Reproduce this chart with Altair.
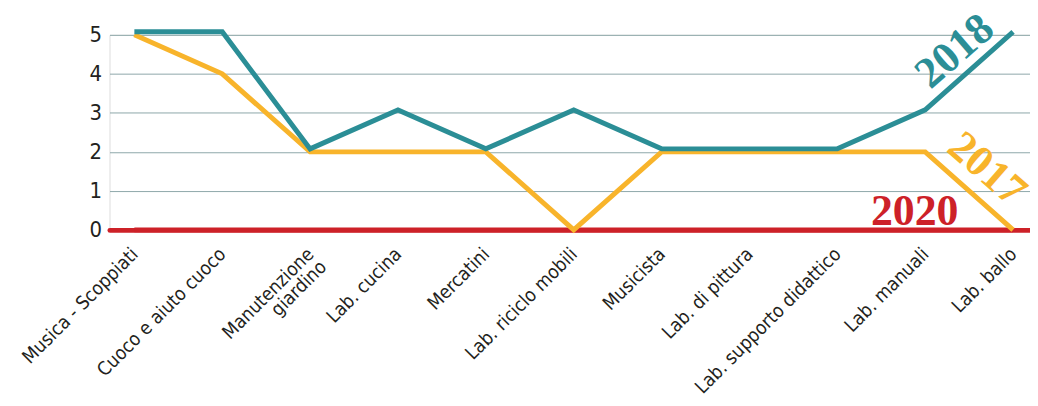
import altair as alt
import pandas as pd

categories = ["Musica - Scoppiati", "Cuoco e aiuto cuoco", "Manutenzione\ngiardino",
              "Lab. cucina", "Mercatini", "Lab. riciclo mobili", "Musicista",
              "Lab. di pittura", "Lab. supporto didattico", "Lab. manuali", "Lab. ballo"]
v2018 = [5, 5, 2, 3, 2, 3, 2, 2, 2, 3, 5]
v2017 = [5, 4, 2, 2, 2, 0, 2, 2, 2, 2, 0]
v2020 = [0, 0, 0, 0, 0, 0, 0, 0, 0, 0, 0]
y_ticks = [0, 1, 2, 3, 4, 5]

series_colors = {"2018": "#2B8E96", "2017": "#F8B42B", "2020": "#CD2128"}

# annotation labels (position in data units, rotation)
ann_text = ["2018", "2017", "2020"]
ann_x = [9.34, 9.70, 8.88]
ann_y = [4.57, 1.55, 0.45]
ann_angle = [319, 41, 0]

rows = []
for name, vals in [("2017", v2017), ("2018", v2018), ("2020", v2020)]:
    for i, v in enumerate(vals):
        rows.append({"idx": i, "cat": categories[i], "value": v, "series": name})
df = pd.DataFrame(rows)

ann = pd.DataFrame({"text": ann_text, "x": ann_x, "y": ann_y, "angle": ann_angle,
                    "color": [series_colors[t] for t in ann_text]})

label_arrays = "[" + ",".join(
    "[" + ",".join('"' + part + '"' for part in c.split("\n")) + "]" for c in categories
) + "]"

W = 925
H = 196
x_scale = alt.Scale(domain=[-0.283, -0.283 + W / 88.3], nice=False, zero=False)
y_scale = alt.Scale(domain=[0, 5], nice=False)

sans = "DejaVu Sans Condensed, Liberation Sans Narrow, sans-serif"

x_axis = alt.Axis(values=list(range(len(categories))), labelExpr=label_arrays + "[datum.value]",
                  title=None, grid=False, ticks=False, domain=True, domainColor="#CD2128",
                  domainWidth=5, domainCap="round", labelAngle=-45, labelAlign="right",
                  labelBaseline="middle", labelPadding=21, labelFont=sans, labelFontSize=19,
                  labelColor="#231F20", labelOverlap=False, labelBound=False, labelFlush=False,
                  labelLineHeight=18, labelLimit=400)
y_axis = alt.Axis(values=y_ticks, title=None, grid=True, gridColor="#8DA7A9", gridWidth=1,
                  domain=False, ticks=False, labelFont=sans, labelFontSize=22,
                  labelColor="#231F20", labelPadding=8, labelOverlap=False, labelBound=False,
                  labelFlush=False)

X = alt.X("idx:Q", scale=x_scale, axis=x_axis)
Y = alt.Y("value:Q", scale=y_scale, axis=y_axis)

base = alt.Chart(df)

line2017 = base.transform_filter(alt.datum.series == "2017").mark_line(
    strokeWidth=5, color=series_colors["2017"], strokeJoin="miter"
).encode(x=X, y=Y)
line2018 = base.transform_filter(alt.datum.series == "2018").mark_line(
    strokeWidth=5, color=series_colors["2018"], strokeJoin="miter"
).encode(x=X, y=Y, yOffset=alt.value(-3))
line2020 = base.transform_filter(alt.datum.series == "2020").mark_line(
    strokeWidth=5, color=series_colors["2020"]
).encode(x=X, y=Y)

labels = alt.Chart(ann).mark_text(
    font="Liberation Serif, DejaVu Serif, serif", fontWeight="bold", fontSize=44,
    align="center", baseline="middle"
).encode(
    x=alt.X("x:Q", scale=x_scale, axis=x_axis),
    y=alt.Y("y:Q", scale=y_scale, axis=y_axis),
    text="text:N",
    angle=alt.Angle("angle:Q", scale=None),
    color=alt.Color("color:N", scale=None),
)

chart = alt.layer(line2020, line2017, line2018, labels).properties(
    width=W, height=H,
    autosize=alt.AutoSizeParams(type="none"),
    padding={"left": 102, "top": 26, "right": 0, "bottom": 174},
).configure_view(stroke=None, clip=False).configure(background="white")

chart.save("out.html", embed_options={"renderer": "svg", "actions": False})
